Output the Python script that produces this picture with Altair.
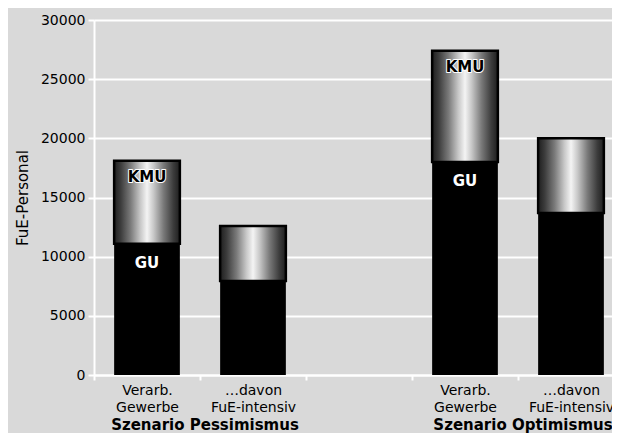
import altair as alt
import pandas as pd

# ---- data -------------------------------------------------------------
slots = ["P_VG", "P_FI", "gap", "O_VG", "O_FI"]
slot_labels = ["Verarb.|Gewerbe", "…davon|FuE-intensiv", "",
               "Verarb.|Gewerbe", "…davon|FuE-intensiv"]

bar_slots = ["P_VG", "P_FI", "O_VG", "O_FI"]
gu_values = [11100, 7950, 18000, 13700]
kmu_values = [7000, 4650, 9400, 6300]
kmu_labels = ["KMU", "", "KMU", ""]
gu_labels = ["GU", "", "GU", ""]

group_slots = ["P_FI", "O_FI"]
group_labels = ["Szenario Pessimismus", "Szenario Optimismus"]

y_ticks = [0, 5000, 10000, 15000, 20000, 25000, 30000]
y_title = "FuE-Personal"

# ---- tables -----------------------------------------------------------
df = pd.DataFrame({
    "slot": bar_slots,
    "gu": gu_values,
    "kmu": kmu_values,
    "kmu_label": kmu_labels,
    "gu_label": gu_labels,
})
df["total"] = df["gu"] + df["kmu"]

groups = pd.DataFrame({"slot": group_slots, "label": group_labels})

# label expression: slot key -> multi-line label
expr = "''"
for s, l in reversed(list(zip(slots, slot_labels))):
    expr = f"datum.value == '{s}' ? split('{l}', '|') : ({expr})"

FONT = "DejaVu Sans"

x_enc = alt.X(
    "slot:N",
    scale=alt.Scale(domain=slots, range=[0, 530], paddingInner=0, paddingOuter=0),
    axis=alt.Axis(
        title=None, labelExpr=expr, tickBand="extent", labelAngle=0,
        domainColor="white", domainWidth=2, tickColor="white", tickWidth=2,
        tickSize=5, labelFontSize=14, labelLineHeight=17, labelPadding=3,
        labelColor="black", grid=False,
    ),
)
y_scale = alt.Scale(domain=[0, 30000], nice=False)

gu_bar = alt.Chart(df).mark_bar(
    color="black", width=alt.RelativeBandSize(0.62)
).encode(
    x=x_enc,
    y=alt.Y(
        "gu:Q", scale=y_scale, title=y_title,
        axis=alt.Axis(
            values=y_ticks, format="d", grid=True, gridColor="white", gridWidth=2,
            domainColor="white", domainWidth=2, tickColor="white", tickWidth=2,
            tickSize=6, labelFontSize=14, labelPadding=3, labelColor="black",
            titleFontSize=15, titleFontWeight="normal", titlePadding=10,
            titleColor="black",
        ),
    ),
)

gradient = alt.LinearGradient(
    gradient="linear", x1=0, x2=1, y1=0, y2=0,
    stops=[
        alt.GradientStop(color="#1e1e1e", offset=0),
        alt.GradientStop(color="#3c3c3c", offset=0.1),
        alt.GradientStop(color="#7a7a7a", offset=0.25),
        alt.GradientStop(color="#c8c8c8", offset=0.4),
        alt.GradientStop(color="#f4f4f4", offset=0.5),
        alt.GradientStop(color="#c8c8c8", offset=0.6),
        alt.GradientStop(color="#7a7a7a", offset=0.75),
        alt.GradientStop(color="#3c3c3c", offset=0.9),
        alt.GradientStop(color="#1e1e1e", offset=1),
    ],
)

kmu_bar = alt.Chart(df).mark_bar(
    fill=gradient, stroke="black", strokeWidth=2.5, width=alt.RelativeBandSize(0.62)
).encode(
    x="slot:N",
    y=alt.Y("total:Q", scale=y_scale, title=y_title),
    y2="gu:Q",
)

kmu_halo = alt.Chart(df).mark_text(
    font=FONT, fontWeight="bold", fontSize=15, baseline="middle", dy=16,
    color="white", stroke="white", strokeWidth=2, strokeJoin="round",
).encode(x="slot:N", y=alt.Y("total:Q", scale=y_scale, title=y_title), text="kmu_label:N")

kmu_text = alt.Chart(df).mark_text(
    font=FONT, fontWeight="bold", fontSize=15, baseline="middle", dy=16, color="black",
).encode(x="slot:N", y=alt.Y("total:Q", scale=y_scale, title=y_title), text="kmu_label:N")

gu_text = alt.Chart(df).mark_text(
    font=FONT, fontWeight="bold", fontSize=15, baseline="middle", dy=19, color="white",
).encode(x="slot:N", y=alt.Y("gu:Q", scale=y_scale, title=y_title), text="gu_label:N")

group_text = alt.Chart(groups).mark_text(
    font=FONT, fontWeight="bold", fontSize=15, baseline="alphabetic", dx=5,
    color="black",
).encode(
    x=alt.X("slot:N", bandPosition=0),
    y=alt.value(410),
    text="label:N",
)

chart = alt.layer(
    gu_bar, kmu_bar, kmu_halo, kmu_text, gu_text, group_text
).properties(
    width=518, height=355,
    padding={"left": 86, "top": 12, "right": 0, "bottom": 58},
    autosize=alt.AutoSizeParams(type="none"),
    background="#d9d9d9",
).configure_view(
    stroke=None,
).configure_axis(
    labelFont=FONT, titleFont=FONT,
).configure_text(font=FONT)

chart.save("out.html", embed_options={"renderer": "svg", "actions": False})
